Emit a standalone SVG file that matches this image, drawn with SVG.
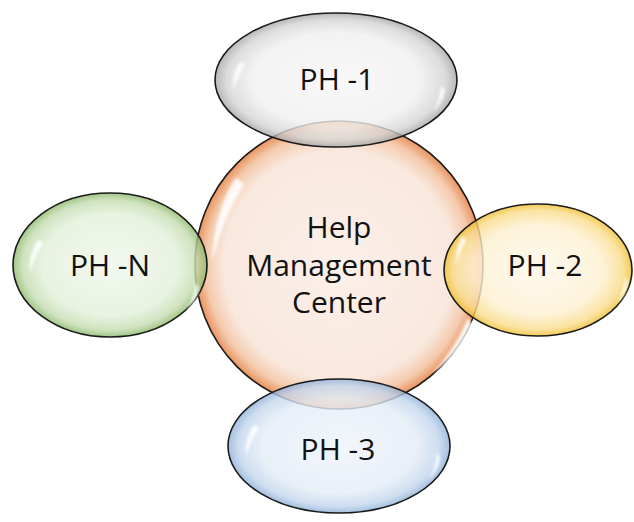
<svg xmlns="http://www.w3.org/2000/svg" width="634" height="522" viewBox="0 0 634 522">
  <defs>
    <radialGradient id="gOrange" cx="50%" cy="50%" r="50%">
      <stop offset="0" stop-color="#FBF0E9"/>
      <stop offset="0.8" stop-color="#F9E8DE"/>
      <stop offset="0.92" stop-color="#F4CBAE"/>
      <stop offset="1" stop-color="#EA935E"/>
    </radialGradient>
    <radialGradient id="gGrey" cx="50%" cy="50%" r="50%">
      <stop offset="0" stop-color="#F7F7F7"/>
      <stop offset="0.7" stop-color="#EFEFEF"/>
      <stop offset="0.9" stop-color="#D4D4D4"/>
      <stop offset="1" stop-color="#A6A6A6"/>
    </radialGradient>
    <radialGradient id="gGreen" cx="50%" cy="50%" r="50%">
      <stop offset="0" stop-color="#EFF6EB"/>
      <stop offset="0.7" stop-color="#E3F0DA"/>
      <stop offset="0.9" stop-color="#C3DCB0"/>
      <stop offset="1" stop-color="#8BB868"/>
    </radialGradient>
    <radialGradient id="gYellow" cx="50%" cy="50%" r="50%">
      <stop offset="0" stop-color="#FEF8EC"/>
      <stop offset="0.68" stop-color="#FDF0D0"/>
      <stop offset="0.9" stop-color="#F9DC8A"/>
      <stop offset="1" stop-color="#F1BE2C"/>
    </radialGradient>
    <radialGradient id="gBlue" cx="50%" cy="50%" r="50%">
      <stop offset="0" stop-color="#EFF4FA"/>
      <stop offset="0.7" stop-color="#E3ECF6"/>
      <stop offset="0.9" stop-color="#C2D5EC"/>
      <stop offset="1" stop-color="#8DB0D8"/>
    </radialGradient>
    <filter id="soft" x="-50%" y="-50%" width="200%" height="200%">
      <feGaussianBlur stdDeviation="1.6"/>
    </filter>
  </defs>
  <style>
    .edge { stroke: #1A1A1A; stroke-width: 1.6; }
    .sat { fill-opacity: 0.8; }
    .shine { fill: #FFFFFF; opacity: 0.9; filter: url(#soft); }
    .lbl { font-family: "Open Sans", "Liberation Sans", sans-serif; font-size: 30px; fill: #111111; text-anchor: middle; }
  </style>

  <!-- hub -->
  <g id="hub">
    <circle cx="339" cy="265" r="144" fill="url(#gOrange)" class="edge"/>
    <path class="shine" d="M236,178 Q214,212 212,262 Q222,220 244,184 Z"/>
    <path class="shine" d="M468,318 Q454,350 432,374 Q458,356 472,324 Z"/>
    <text class="lbl" x="339" y="238">Help</text>
    <text class="lbl" x="339" y="276">Management</text>
    <text class="lbl" x="339" y="313">Center</text>
  </g>

  <!-- connectors: the bubbles touch the hub directly -->
  <g id="connectors"/>

  <g id="ph1">
    <ellipse cx="336" cy="80" rx="121" ry="67" fill="url(#gGrey)" class="edge sat"/>
    <path class="shine" d="M240,62 Q232,74 233,90 Q238,76 245,64 Z"/>
    <path class="shine" d="M441,86 Q440,100 433,112 Q442,104 445,90 Z"/>
    <text class="lbl" x="337" y="90">PH -1</text>
  </g>

  <g id="phN">
    <ellipse cx="110" cy="265" rx="97" ry="72" fill="url(#gGreen)" class="edge sat"/>
    <path class="shine" d="M38,240 Q28,256 30,272 Q35,256 43,243 Z"/>
    <path class="shine" d="M196,282 Q194,298 186,312 Q196,302 199,288 Z"/>
    <text class="lbl" x="110" y="276">PH -N</text>
  </g>

  <g id="ph2">
    <ellipse cx="538" cy="270" rx="94" ry="66" fill="url(#gYellow)" class="edge sat"/>
    <path class="shine" d="M462,236 Q455,250 457,264 Q460,250 466,240 Z"/>
    <path class="shine" d="M625,276 Q624,292 616,304 Q626,296 628,282 Z"/>
    <text class="lbl" x="545" y="276">PH -2</text>
  </g>

  <g id="ph3">
    <ellipse cx="339" cy="446" rx="111" ry="67" fill="url(#gBlue)" class="edge sat"/>
    <path class="shine" d="M254,425 Q244,440 246,456 Q251,440 259,428 Z"/>
    <path class="shine" d="M437,452 Q436,468 428,480 Q438,472 440,458 Z"/>
    <text class="lbl" x="338" y="460">PH -3</text>
  </g>
</svg>
